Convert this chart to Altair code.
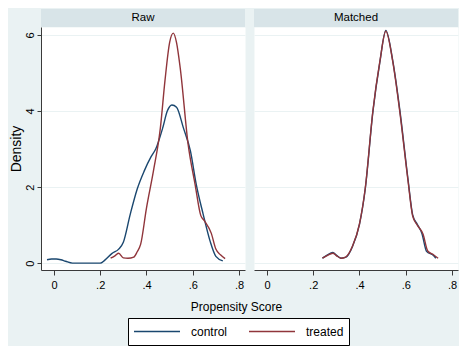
import altair as alt
import pandas as pd

# ---------------- data ----------------
groups = ["control", "treated"]
panel_names = ["Raw", "Matched"]

raw_control_x = [-0.03, -0.01, 0.01, 0.03, 0.05, 0.08, 0.12, 0.16, 0.20, 0.22, 0.25, 0.28, 0.30,
                 0.33, 0.36, 0.39, 0.42, 0.44, 0.47, 0.49, 0.51, 0.53, 0.56, 0.59, 0.615, 0.645,
                 0.675, 0.70, 0.73]
raw_control_y = [0.09, 0.11, 0.11, 0.09, 0.05, 0.0, 0.0, 0.0, 0.0, 0.08, 0.25, 0.37, 0.55,
                 1.29, 1.95, 2.42, 2.8, 3.0, 3.55, 4.0, 4.16, 4.1, 3.55, 2.95, 2.08, 1.29,
                 0.58, 0.18, 0.06]

raw_treated_x = [0.245, 0.265, 0.28, 0.30, 0.32, 0.345, 0.36, 0.375, 0.40, 0.43, 0.46, 0.48,
                 0.50, 0.516, 0.53, 0.546, 0.58, 0.61, 0.635, 0.65, 0.68, 0.70, 0.72, 0.74]
raw_treated_y = [0.13, 0.2, 0.26, 0.14, 0.13, 0.16, 0.3, 0.5, 1.45, 2.42, 3.55, 4.8,
                 5.8, 6.05, 5.8, 5.13, 3.13, 2.08, 1.25, 1.12, 0.79, 0.37, 0.22, 0.12]

matched_control_x = [0.24, 0.26, 0.285, 0.30, 0.32, 0.34, 0.37, 0.40, 0.425, 0.458, 0.488, 0.514,
                     0.544, 0.574, 0.61, 0.63, 0.65, 0.67, 0.69, 0.72, 0.73]
matched_control_y = [0.13, 0.21, 0.28, 0.21, 0.13, 0.15, 0.44, 1.02, 1.95, 3.98, 5.28, 6.12,
                     5.32, 4.05, 2.2, 1.27, 1.02, 0.78, 0.31, 0.2, 0.13]

matched_treated_x = [0.24, 0.26, 0.285, 0.30, 0.32, 0.34, 0.37, 0.40, 0.425, 0.458, 0.488, 0.514,
                     0.544, 0.574, 0.61, 0.63, 0.65, 0.675, 0.695, 0.72, 0.74]
matched_treated_y = [0.13, 0.2, 0.26, 0.2, 0.13, 0.16, 0.45, 1.03, 1.97, 4.0, 5.3, 6.1,
                     5.3, 4.0, 2.16, 1.24, 1.0, 0.76, 0.32, 0.22, 0.13]

x_ticks = [0, 0.2, 0.4, 0.6, 0.8]
y_ticks = [0, 2, 4, 6]


def frame(xs, ys, group):
    return pd.DataFrame({"score": xs, "density": ys, "group": group})


raw_df = pd.concat([frame(raw_control_x, raw_control_y, "control"),
                    frame(raw_treated_x, raw_treated_y, "treated")], ignore_index=True)
matched_df = pd.concat([frame(matched_control_x, matched_control_y, "control"),
                        frame(matched_treated_x, matched_treated_y, "treated")], ignore_index=True)

# ---------------- styling ----------------
FONT = "Liberation Sans"
BG = "#eaf2f3"
STRIP = "#d8e4e8"
W, H = 204, 243
XDOM = [-0.056, 0.826]
YDOM = [-0.18, 6.21]
color_scale = alt.Scale(domain=groups, range=["#1a476f", "#90353b"])
x_label_expr = "datum.value == 0 ? '0' : replace(format(datum.value, '.1f'), '0.', '.')"

legend = alt.Legend(orient="none", legendX=87, legendY=291, direction="horizontal",
                    title=None, symbolType="stroke", symbolSize=2116, symbolStrokeWidth=1.5,
                    labelFontSize=12, labelFont=FONT, labelColor="black", labelOffset=10,
                    columnPadding=20, padding=5, clipHeight=17,
                    strokeColor="black", fillColor="white")


def panel(df, name, left):
    if left:
        xaxis = alt.Axis(values=x_ticks, labelExpr=x_label_expr, title="Propensity Score",
                         titleX=195, titleY=36, titleAlign="center", titleBaseline="middle",
                         grid=False, tickSize=5)
        yaxis = alt.Axis(values=y_ticks, title="Density", labelAngle=-90, grid=True,
                         tickSize=4, labelPadding=2, titlePadding=1, titleFontSize=14)
    else:
        xaxis = alt.Axis(values=x_ticks, labelExpr=x_label_expr, title=None, grid=False,
                         tickSize=5)
        yaxis = alt.Axis(values=y_ticks, title=None, labels=False, ticks=False,
                         domain=False, grid=True)
    lines = alt.Chart(df).mark_line(strokeWidth=1.4, interpolate="monotone").encode(
        x=alt.X("score:Q", scale=alt.Scale(domain=XDOM, nice=False, zero=False), axis=xaxis),
        y=alt.Y("density:Q", scale=alt.Scale(domain=YDOM, nice=False, zero=False), axis=yaxis),
        color=alt.Color("group:N", scale=color_scale, legend=legend),
        order=alt.Order("score:Q"),
        detail="group:N",
    )
    strip_df = pd.DataFrame({"label": [name]})
    strip = alt.Chart(strip_df).mark_rect(color=STRIP).encode(
        x=alt.value(0), x2=alt.value(W), y=alt.value(-18), y2=alt.value(0))
    text = alt.Chart(strip_df).mark_text(font=FONT, fontSize=11.5, color="black",
                                         baseline="middle", align="center").encode(
        x=alt.value(W / 2), y=alt.value(-9), text="label:N")
    return alt.layer(strip, text, lines).properties(width=W, height=H)


left = panel(raw_df, panel_names[0], True)
right = panel(matched_df, panel_names[1], False)

chart = alt.hconcat(left, right, spacing=9, bounds="flush").properties(
    background=BG, padding=0
).configure_view(
    fill="white", stroke="transparent"
).configure_axis(
    domainColor="#3a3a3a", tickColor="#3a3a3a", labelColor="black", titleColor="black",
    labelFont=FONT, titleFont=FONT, labelFontSize=11, titleFontSize=12,
    titleFontWeight="normal", gridColor=BG, gridWidth=1, labelPadding=4
)

chart.save("out.html", embed_options={"renderer": "svg", "actions": False})
